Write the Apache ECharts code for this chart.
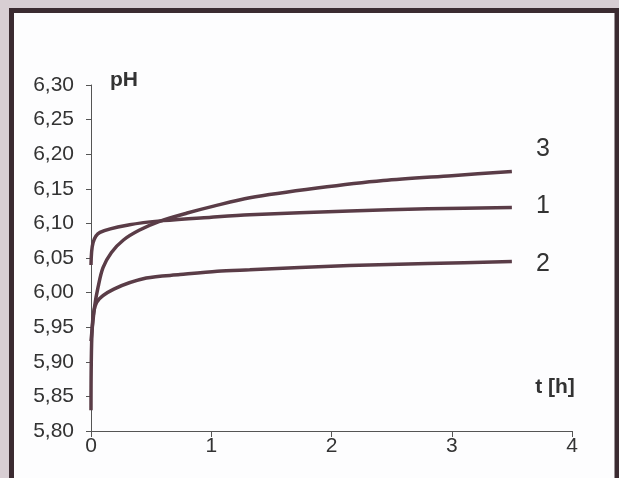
<!DOCTYPE html>
<html>
<head>
<meta charset="utf-8">
<script src="https://cdn.jsdelivr.net/npm/echarts@6/dist/echarts.min.js"></script>
<style>
  html, body { margin: 0; padding: 0; background: #d8ced3; }
  #main { width: 619px; height: 478px; }
</style>
</head>
<body>
<div id="main"></div>
<script>
// pH readings over time (h)
var t1 = [0, 0.017, 0.075, 0.32, 0.6, 1.0, 1.32, 2.15, 2.8, 3.5];
var ph1 = [6.04, 6.072, 6.087, 6.098, 6.104, 6.109, 6.1125, 6.118, 6.121, 6.123];

var t2 = [0, 0.01, 0.047, 0.19, 0.46, 0.74, 1.05, 1.32, 2.15, 2.8, 3.5];
var ph2 = [5.83, 5.95, 5.986, 6.005, 6.021, 6.026, 6.031, 6.033, 6.039, 6.042, 6.045];

var t3 = [0, 0.03, 0.06, 0.1, 0.17, 0.27, 0.4, 0.57, 0.8, 1.02, 1.32, 1.88, 2.43, 3.0, 3.5];
var ph3 = [5.93, 5.98, 6.009, 6.036, 6.058, 6.076, 6.09, 6.103, 6.115, 6.125, 6.137, 6.151, 6.162, 6.169, 6.175];

var names = ['1', '2', '3'];
var labelOffsets = [[0, -1], [0, 3], [0, -22]];

function pairs(t, v) {
  return t.map(function (x, i) { return [x, v[i]]; });
}

var lineColor = '#5a3c47';
var font = '"Liberation Sans", Arial, sans-serif';

var myChart = echarts.init(document.getElementById('main'));

var series = [pairs(t1, ph1), pairs(t2, ph2), pairs(t3, ph3)].map(function (d, i) {
  return {
    name: names[i],
    type: 'line',
    data: d,
    smooth: 0.3,
    symbol: 'none',
    lineStyle: { color: lineColor, width: 3.5 },
    endLabel: {
      show: true,
      formatter: '{a}',
      distance: 24,
      offset: labelOffsets[i],
      color: '#333',
      fontSize: 25,
      fontFamily: font
    }
  };
});

myChart.setOption({
  backgroundColor: '#d8ced3',
  animation: false,
  graphic: [
    {
      type: 'rect',
      z: -10,
      shape: { x: 11.5, y: 10.5, width: 605.5, height: 480 },
      style: { fill: '#fdfdfe', stroke: '#3b2b31', lineWidth: 5 }
    }
  ],
  grid: { left: 91, right: 47, top: 85, bottom: 47 },
  xAxis: {
    type: 'value',
    min: 0,
    max: 4,
    interval: 1,
    name: 't [h]',
    nameLocation: 'end',
    nameGap: -17,
    nameTextStyle: {
      color: '#333',
      fontSize: 21,
      fontWeight: 'bold',
      fontFamily: font,
      align: 'center',
      verticalAlign: 'bottom',
      padding: [0, 0, 33, 0]
    },
    axisLine: { lineStyle: { color: '#555', width: 1 } },
    axisTick: { show: true, length: 6, lineStyle: { color: '#555' } },
    splitLine: { show: false },
    axisLabel: { color: '#333', fontSize: 21, fontFamily: font, margin: 5 }
  },
  yAxis: {
    type: 'value',
    min: 5.8,
    max: 6.3,
    interval: 0.05,
    name: 'pH',
    nameLocation: 'end',
    nameGap: 5,
    nameTextStyle: {
      color: '#333',
      fontSize: 21,
      fontWeight: 'bold',
      fontFamily: font,
      align: 'left',
      verticalAlign: 'middle',
      padding: [0, 0, 0, 19]
    },
    axisLine: { show: true, lineStyle: { color: '#555', width: 1 } },
    axisTick: { show: true, length: 5, lineStyle: { color: '#555' } },
    splitLine: { show: false },
    axisLabel: {
      color: '#333',
      fontSize: 21,
      fontFamily: font,
      margin: 17,
      formatter: function (v) { return v.toFixed(2).replace('.', ','); }
    }
  },
  series: series
});
</script>
</body>
</html>
